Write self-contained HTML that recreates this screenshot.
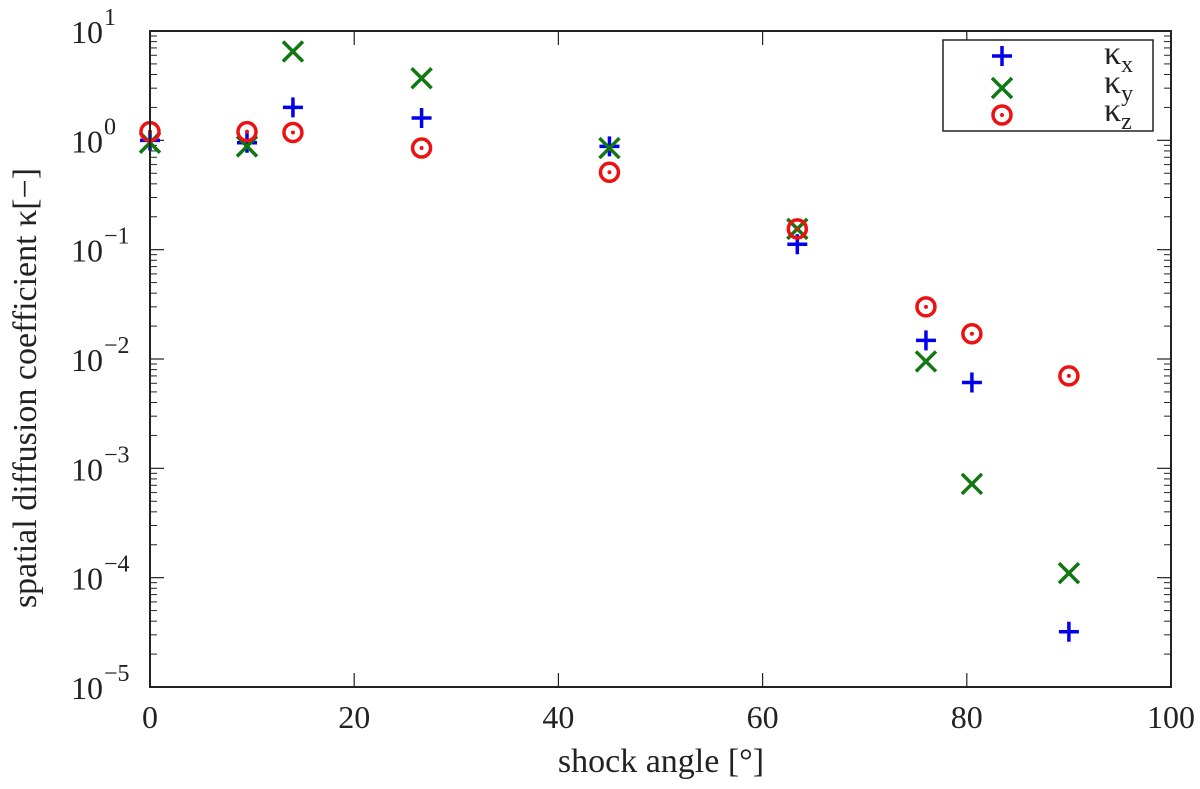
<!DOCTYPE html>
<html><head><meta charset="utf-8"><style>
body{margin:0;background:#fff}
svg text{font-family:"Liberation Serif","DejaVu Serif",serif;fill:#222}
</style></head><body>
<svg id="chart" width="1200" height="784" xmlns="http://www.w3.org/2000/svg">
<g id="ticks"></g>
<g id="marks"></g>
<rect x="150" y="31" width="1021" height="656" fill="none" stroke="#222" stroke-width="2"/>
<text x="661" y="772" font-size="34" text-anchor="middle">shock angle [°]</text>
<text transform="translate(36,388) rotate(-90)" font-size="34" text-anchor="middle">spatial diffusion coefficient κ[−]</text>
<g>
<rect x="943" y="40" width="210" height="91" fill="#fff" stroke="#222" stroke-width="1.5"/>
<g id="legend-marks"></g>
<text x="1104" y="64" font-size="34">κ<tspan font-size="24" dy="8">x</tspan></text>
<text x="1104" y="93" font-size="34">κ<tspan font-size="24" dy="8">y</tspan></text>
<text x="1104" y="121" font-size="34">κ<tspan font-size="24" dy="8">z</tspan></text>
</g>
</svg>
<script>
const angles=[0,9.5,14,26.6,45,63.4,76,80.5,90];
const kx=[1.0,0.95,2.0,1.6,0.88,0.112,0.0148,0.0061,3.2e-5];
const ky=[0.95,0.88,6.5,3.7,0.85,0.155,0.0095,7.2e-4,1.1e-4];
const kz=[1.2,1.2,1.18,0.85,0.51,0.155,0.03,0.017,0.007];
const xTicks=[0,20,40,60,80,100];
const yExps=[-5,-4,-3,-2,-1,0,1];
const NS="http://www.w3.org/2000/svg";
const X0=150,X1=1171,Y0=687,Y1=31;
function xs(v){return X0+(v-0)/(100-0)*(X1-X0);}
function ys(v){return Y0-(Math.log10(v)+5)/6*(Y0-Y1);}
function mk(tag,attrs,parent){const e=document.createElementNS(NS,tag);for(const k in attrs)e.setAttribute(k,attrs[k]);parent.appendChild(e);return e;}
const T=document.getElementById('ticks'),M=document.getElementById('marks'),L=document.getElementById('legend-marks');
xTicks.forEach(t=>{
 const x=xs(t);
 const g=mk('g',{},T);
 
 
 mk('line',{x1:x,x2:x,y1:Y0,y2:Y0-14,stroke:'#222','stroke-width':1.2},g);
 mk('line',{x1:x,x2:x,y1:Y1,y2:Y1+14,stroke:'#222','stroke-width':1.2},g);
 const tx=mk('text',{x:x,y:728,'font-size':32,'text-anchor':'middle'},g);tx.textContent=t;
});
yExps.forEach(e=>{
 const y=ys(Math.pow(10,e));
 const g=mk('g',{},T);
 
 
 mk('line',{x1:X0,x2:X0+14,y1:y,y2:y,stroke:'#222','stroke-width':1.2},g);
 mk('line',{x1:X1,x2:X1-14,y1:y,y2:y,stroke:'#222','stroke-width':1.2},g);
 const tx=mk('text',{x:103,y:y+12,'font-size':32,'text-anchor':'end'},g);tx.textContent='10';
 const sp=mk('text',{x:104,y:y-6,'font-size':24,'text-anchor':'start'},g);sp.textContent=(e<0?'−':'')+Math.abs(e);
 if(e<1)for(let m=2;m<=9;m++){const yy=ys(m*Math.pow(10,e));
  mk('line',{x1:X0,x2:X0+7,y1:yy,y2:yy,stroke:'#222','stroke-width':1},g);
  mk('line',{x1:X1,x2:X1-7,y1:yy,y2:yy,stroke:'#222','stroke-width':1},g);}
});
function plus(x,y,p){mk('path',{d:`M${x-10},${y}H${x+10}M${x},${y-10}V${y+10}`,stroke:'#0000ee','stroke-width':3.5,fill:'none'},p);}
function cross(x,y,p){mk('path',{d:`M${x-10},${y-10}L${x+10},${y+10}M${x-10},${y+10}L${x+10},${y-10}`,stroke:'#117711','stroke-width':3.5,fill:'none'},p);}
function circ(x,y,p){mk('circle',{cx:x,cy:y,r:9,stroke:'#ee1111','stroke-width':3.5,fill:'none'},p);mk('circle',{cx:x,cy:y,r:2,fill:'#ee1111'},p);}
function series(name,vals,fn){const g=mk('g',{},M);
 
 
 vals.forEach((v,i)=>fn(xs(angles[i]),ys(v),g));}
series('series-kappa-x',kx,plus);
series('series-kappa-y',ky,cross);
series('series-kappa-z',kz,circ);
plus(1002,56,L);cross(1002,88,L);circ(1002,115,L);
</script>
</body></html>
